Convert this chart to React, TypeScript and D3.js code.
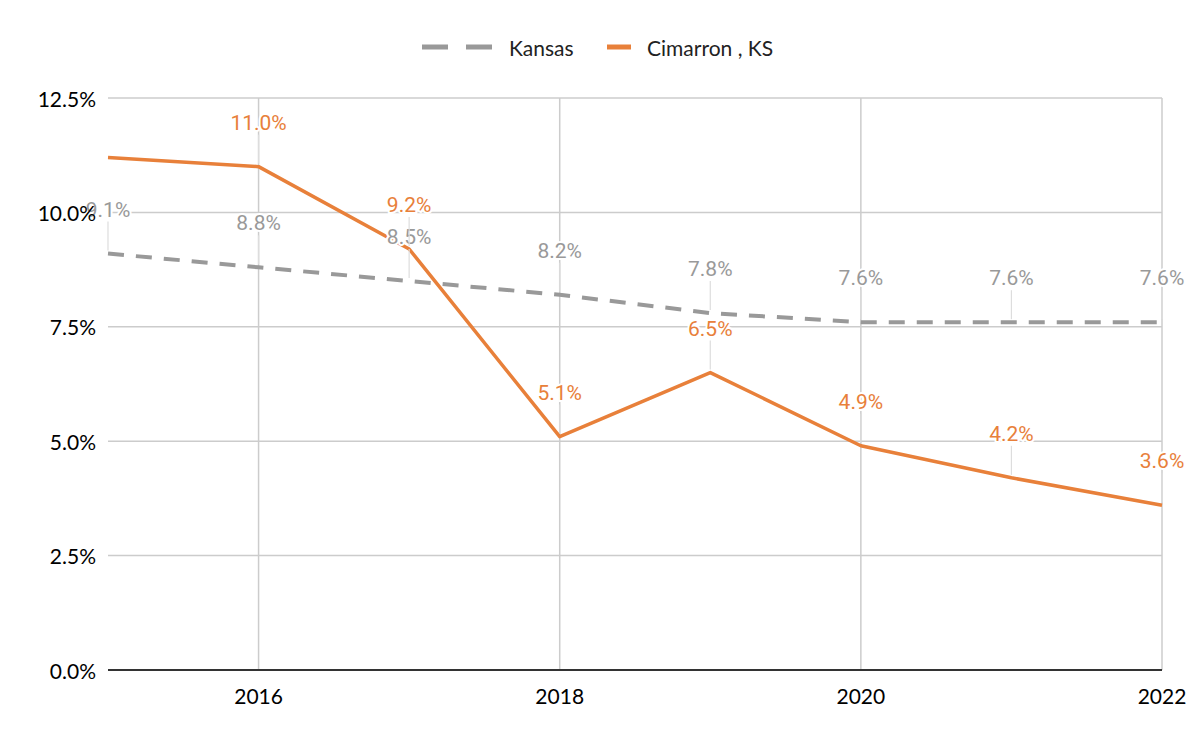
import React from 'react';
import * as d3 from 'd3';

const years = [2015, 2016, 2017, 2018, 2019, 2020, 2021, 2022];
const kansas = [9.1, 8.8, 8.5, 8.2, 7.8, 7.6, 7.6, 7.6];
const cimarron = [11.2, 11.0, 9.2, 5.1, 6.5, 4.9, 4.2, 3.6];
// the 2015 Cimarron label is not shown in the original
const cimarronLabelShown = [false, true, true, true, true, true, true, true];
const yTicks = [0, 2.5, 5, 7.5, 10, 12.5];
const xTicks = [2016, 2018, 2020, 2022];

const W = 1200;
const H = 744;
const margin = { top: 98, right: 38, bottom: 74, left: 108 };

const GREY = '#999999';
const ORANGE = '#E8803A';
const AXIS_FONT = 'Lato, "Open Sans", sans-serif';
const LABEL_FONT = 'Roboto, "Noto Sans", sans-serif';

const App: React.FC = () => {
  const x = d3.scaleLinear().domain([2015, 2022]).range([margin.left, W - margin.right]);
  const y = d3.scaleLinear().domain([0, 12.5]).range([H - margin.bottom, margin.top]);

  const line = d3.line<number>()
    .x((_, i) => x(years[i]))
    .y(d => y(d));

  const labelOffset = 44;

  const renderLabels = (vals: number[], color: string, shown?: boolean[]) =>
    vals.map((v, i) => {
      if (shown && !shown[i]) return null;
      const px = x(years[i]);
      const py = y(v);
      const ly = py - labelOffset;
      return (
        <g key={`${color}-${i}`}>
          <line x1={px} x2={px} y1={ly + 12} y2={py - 3} stroke="#dddddd" strokeWidth={1.2} />
          <text
            x={px}
            y={ly}
            textAnchor="middle"
            dominantBaseline="central"
            fontFamily={LABEL_FONT}
            fontSize={21}
            fill={color}
            stroke="#ffffff"
            strokeWidth={4}
            paintOrder="stroke"
          >
            {v.toFixed(1)}%
          </text>
        </g>
      );
    });

  return (
    <svg width={W} height={H} style={{ position: 'absolute', left: 0, top: 0, background: '#fff' }}>
      <rect width={W} height={H} fill="#ffffff" />

      {/* gridlines */}
      {yTicks.filter(t => t > 0).map(t => (
        <line key={`gy${t}`} x1={x(2015)} x2={x(2022)} y1={y(t)} y2={y(t)} stroke="#cccccc" strokeWidth={1.5} />
      ))}
      {xTicks.map(t => (
        <line key={`gx${t}`} x1={x(t)} x2={x(t)} y1={y(12.5)} y2={y(0)} stroke="#cccccc" strokeWidth={1.5} />
      ))}
      <line x1={x(2015)} x2={x(2022)} y1={y(0)} y2={y(0)} stroke="#333333" strokeWidth={2} />

      {/* series */}
      <path d={line(kansas) ?? ''} fill="none" stroke={GREY} strokeWidth={4} strokeDasharray="16 12" />
      <path d={line(cimarron) ?? ''} fill="none" stroke={ORANGE} strokeWidth={3.5} strokeLinejoin="round" />

      {/* data labels */}
      {renderLabels(kansas, GREY)}
      {renderLabels(cimarron, ORANGE, cimarronLabelShown)}

      {/* axis labels */}
      {yTicks.map(t => (
        <text key={`ty${t}`} x={x(2015) - 12} y={y(t)} textAnchor="end" dominantBaseline="central"
          fontFamily={AXIS_FONT} fontSize={21} fill="#000000">
          {t.toFixed(1)}%
        </text>
      ))}
      {xTicks.map(t => (
        <text key={`tx${t}`} x={x(t)} y={y(0) + 25} textAnchor="middle" dominantBaseline="central"
          fontFamily={AXIS_FONT} fontSize={21} fill="#000000">
          {t}
        </text>
      ))}

      {/* legend */}
      <g>
        <line x1={422} x2={492} y1={47} y2={47} stroke={GREY} strokeWidth={5} strokeDasharray="26 18" />
        <text x={509} y={47} dominantBaseline="central" fontFamily={AXIS_FONT} fontSize={21} fill="#222222">Kansas</text>
        <line x1={607} x2={631} y1={47} y2={47} stroke={ORANGE} strokeWidth={5} />
        <text x={647} y={47} dominantBaseline="central" fontFamily={AXIS_FONT} fontSize={21} fill="#222222">Cimarron , KS</text>
      </g>
    </svg>
  );
};

export default App;
